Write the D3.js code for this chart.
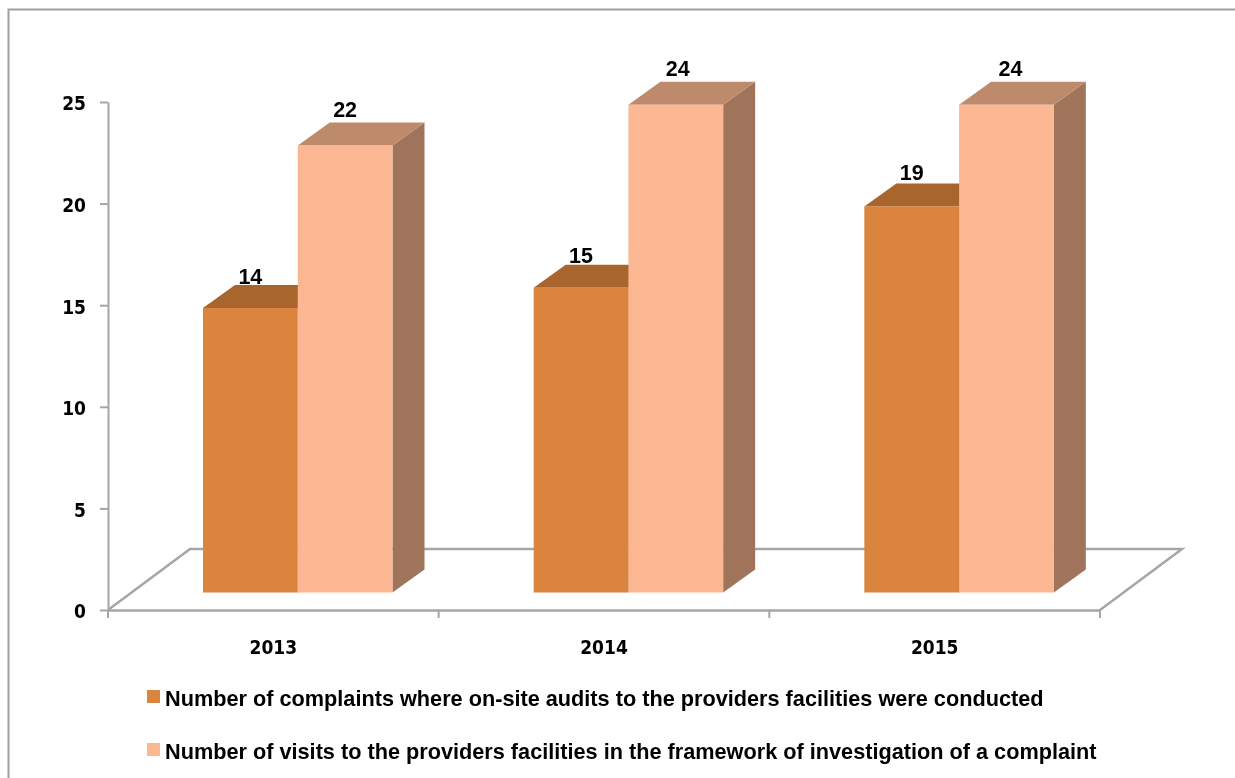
<!DOCTYPE html>
<html>
<head>
<meta charset="utf-8">
<style>
  html, body { margin: 0; padding: 0; background: #fff; }
  svg { display: block; filter: blur(0.4px); }
  .tick text { font-family: "DejaVu Sans", sans-serif; font-stretch: condensed; font-weight: bold; font-size: 19px; fill: #000; }
  .lab { font-family: "Liberation Sans", sans-serif; font-weight: bold; font-size: 21.5px; fill: #000; text-anchor: middle; }
  .leg { font-family: "Liberation Sans", sans-serif; font-weight: bold; font-size: 21.7px; fill: #000; }
</style>
</head>
<body>
<div id="chartContainer"></div>
<script src="https://cdnjs.cloudflare.com/ajax/libs/d3/7.8.5/d3.min.js"></script>
<script>
  var years = ["2013", "2014", "2015"];
  var yTicks = [0, 5, 10, 15, 20, 25];
  var audits = [14, 15, 19];
  var visits = [22, 24, 24];
  var seriesNames = [
    "Number of complaints where on-site audits to the providers facilities were conducted",
    "Number of visits to the providers facilities in the framework of investigation of a complaint"
  ];

  var axisGrey = "#a6a6a6";
  // front, top and side shade of each series
  var shades = [
    { front: "#db843d", top: "#a8652d", side: "#a8652d" },
    { front: "#fab791", top: "#bd8a6c", side: "#a0745a" }
  ];

  var svg = d3.select("#chartContainer").append("svg")
    .attr("width", 1235).attr("height", 778);

  // outer frame, runs off the right and bottom of the picture
  svg.append("path")
    .attr("d", "M8.5,790V9.5H1240")
    .attr("fill", "none").attr("stroke", "#a0a0a0").attr("stroke-width", 2);

  var y = d3.scaleLinear().domain([0, 25]).range([610, 102]);
  var x = d3.scaleBand().domain(years).range([108, 1100]);
  var inner = d3.scaleBand().domain([0, 1]).range([95, 284.5]);

  // 3d offsets
  var floorDx = 82, floorDy = -61;
  var barDx = 32, barDy = -23;
  var barLift = 17.5; // bars stand this far above the front floor edge

  // floor
  svg.append("path")
    .attr("d", d3.line()([
      [x.range()[0], y(0)],
      [x.range()[0] + floorDx, y(0) + floorDy],
      [x.range()[1] + floorDx, y(0) + floorDy],
      [x.range()[1], y(0)]
    ]))
    .attr("fill", "none").attr("stroke", axisGrey).attr("stroke-width", 2.5);

  // axes
  var yAxis = svg.append("g")
    .attr("transform", "translate(108,0)")
    .call(d3.axisLeft(y).tickValues(yTicks).tickSize(8).tickSizeOuter(0).tickPadding(14));
  yAxis.selectAll("line").attr("stroke", axisGrey).attr("stroke-width", 2);
  yAxis.select(".domain").attr("stroke", axisGrey).attr("stroke-width", 2);
  yAxis.selectAll("text").attr("dy", "0.42em");

  var xAxis = svg.append("g")
    .attr("transform", "translate(0,610)")
    .call(d3.axisBottom(x).tickSize(0).tickPadding(31));
  xAxis.select(".domain").attr("stroke", axisGrey).attr("stroke-width", 2.5);

  // tick marks sit on the band edges
  svg.selectAll(".edge")
    .data(d3.range(years.length + 1))
    .enter().append("line")
      .attr("class", "edge")
      .attr("x1", function (d) { return x.range()[0] + d * x.step(); })
      .attr("x2", function (d) { return x.range()[0] + d * x.step(); })
      .attr("y1", 610).attr("y2", 618)
      .attr("stroke", axisGrey).attr("stroke-width", 2);

  // bars, drawn back to front so the lighter one hides the darker side
  var rows = [];
  years.forEach(function (year, i) {
    rows.push({ year: year, i: i, s: 0, value: audits[i] });
    rows.push({ year: year, i: i, s: 1, value: visits[i] });
  });

  var bars = svg.selectAll(".bar").data(rows).enter().append("g").attr("class", "bar");

  function left(d) { return x(d.year) + inner(d.s); }
  function right(d) { return left(d) + inner.bandwidth(); }
  function topY(d) { return y(d.value) - barLift; }
  var baseY = y(0) - barLift;

  bars.append("path") // side
    .attr("fill", function (d) { return shades[d.s].side; })
    .attr("d", function (d) {
      return d3.line()([
        [right(d), topY(d)], [right(d) + barDx, topY(d) + barDy],
        [right(d) + barDx, baseY + barDy], [right(d), baseY]
      ]) + "Z";
    });
  bars.append("path") // top
    .attr("fill", function (d) { return shades[d.s].top; })
    .attr("d", function (d) {
      return d3.line()([
        [left(d), topY(d)], [left(d) + barDx, topY(d) + barDy],
        [right(d) + barDx, topY(d) + barDy], [right(d), topY(d)]
      ]) + "Z";
    });
  bars.append("rect") // front
    .attr("fill", function (d) { return shades[d.s].front; })
    .attr("x", left)
    .attr("y", topY)
    .attr("width", inner.bandwidth())
    .attr("height", function (d) { return baseY - topY(d); });

  // value labels
  svg.selectAll(".lab").data(rows).enter().append("text")
    .attr("class", "lab")
    .attr("x", function (d) { return (left(d) + right(d)) / 2 + (d.s ? d.i * 2 : 0); })
    .attr("y", function (d) { return topY(d) + barDy - 1.5 - (d.value - 14) * 0.45; })
    .text(function (d) { return d.value; });

  // legend
  var legend = svg.selectAll(".legRow").data(seriesNames).enter().append("g")
    .attr("class", "legRow")
    .attr("transform", function (d, i) { return "translate(147," + (690 + i * 53) + ")"; });
  legend.append("rect")
    .attr("width", 13).attr("height", 13)
    .attr("fill", function (d, i) { return shades[i].front; });
  legend.append("text")
    .attr("class", "leg")
    .attr("x", 18).attr("y", 15.5)
    .text(function (d) { return d; });
</script>
</body>
</html>
